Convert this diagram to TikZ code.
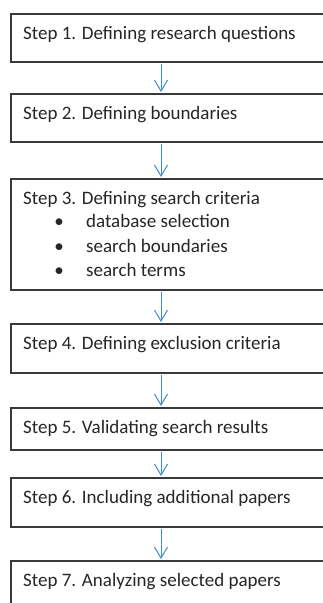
\documentclass[tikz,border=0pt]{standalone}
\usepackage{fontspec}
\setmainfont{Carlito}
\usetikzlibrary{arrows.meta,calc}
\definecolor{boxgray}{HTML}{3A3A3A}
\definecolor{arrblue}{HTML}{3E8ED0}
\tikzset{
  stepbox/.style={draw=boxgray, line width=1.4pt, anchor=north west, minimum width=340pt, inner sep=0pt, outer sep=0pt},
  lbl/.style={anchor=base west, inner sep=0pt, text=black!85, font=\fontsize{19}{22}\selectfont},
  bul/.style={anchor=base, inner sep=0pt, text=black!85, font=\fontsize{19}{22}\selectfont},
  arr/.style={draw=arrblue, line width=1pt, -{Straight Barb[length=11pt, width=13pt, line width=1pt]}, shorten <=2pt, shorten >=2pt}
}
\begin{document}
\begin{tikzpicture}[x=1pt, y=-1pt]
\useasboundingbox (0,0) rectangle (323,603);
\clip (0,0) rectangle (323,603);
\fill[white] (0,0) rectangle (323,603);
% boxes
\node[stepbox, minimum height=48pt] (s1) at (11,14) {};
\node[stepbox, minimum height=48pt] (s2) at (11,94) {};
\node[stepbox, minimum height=111pt] (s3) at (11,179) {};
\node[stepbox, minimum height=49pt] (s4) at (11,324) {};
\node[stepbox, minimum height=42pt] (s5) at (11,408) {};
\node[stepbox, minimum height=49pt] (s6) at (11,478) {};
\node[stepbox, minimum height=60pt] (s7) at (11,561) {};
% labels
\node[lbl] (t1) at (23,39) {Step 1. Defining research questions};
\node[lbl] (t2) at (23,119) {Step 2. Defining boundaries};
\node[lbl] (t3) at (23,204) {Step 3. Defining search criteria};
\node[bul] (b1) at (59,227) {\textbullet};
\node[lbl] (i1) at (86,227) {database selection};
\node[bul] (b2) at (59,252) {\textbullet};
\node[lbl] (i2) at (86,252) {search boundaries};
\node[bul] (b3) at (59,276) {\textbullet};
\node[lbl] (i3) at (86,276) {search terms};
\node[lbl] (t4) at (23,349) {Step 4. Defining exclusion criteria};
\node[lbl] (t5) at (23,433) {Step 5. Validating search results};
\node[lbl] (t6) at (23,503) {Step 6. Including additional papers};
\node[lbl] (t7) at (23,586) {Step 7. Analyzing selected papers};
% arrows
\foreach \a/\b in {s1/s2, s2/s3, s3/s4, s4/s5, s5/s6, s6/s7}
  \draw[arr] ($(\a.south west)+(150,0)$) -- ($(\b.north west)+(150,0)$);
\end{tikzpicture}
\end{document}
